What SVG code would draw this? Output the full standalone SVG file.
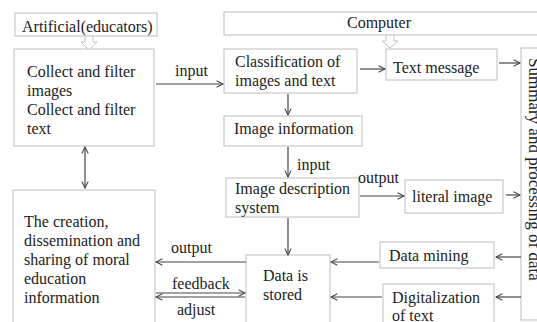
<svg xmlns="http://www.w3.org/2000/svg" width="537" height="322" viewBox="0 0 537 322">
  <defs>
    <marker id="arrow" viewBox="0 0 10 10" refX="9" refY="5" markerWidth="8" markerHeight="8" markerUnits="userSpaceOnUse" orient="auto-start-reverse">
      <path d="M1,1 L9,5 L1,9" fill="none" stroke="#444" stroke-width="1.3"/>
    </marker>
  </defs>
  <style>
    .box { fill: #fff; stroke: #bdbdbd; stroke-width: 1; }
    .hollow { fill: #fff; stroke: #c6c6c6; stroke-width: 1; }
    .lbl { font-family: "Liberation Serif", "Times New Roman", serif; font-size: 16px; fill: #222; }
    .conn path { fill: none; stroke: #444; stroke-width: 1.2; marker-end: url(#arrow); }
  </style>
  <rect width="537" height="322" fill="#fff"/>

  <!-- top actors -->
  <g id="artificial">
    <rect class="box" x="15" y="13" width="142" height="23"/>
    <text class="lbl" x="22" y="32">Artificial(educators)</text>
    <path class="hollow" d="M85,36 V42 H81 L89,50 L97,42 H93 V36 Z"/>
  </g>
  <g id="computer">
    <rect class="box" x="224" y="12" width="330" height="23"/>
    <text class="lbl" x="379" y="28" text-anchor="middle">Computer</text>
    <path class="hollow" d="M386,35 V41 H382 L390,48 L398,41 H394 V35 Z"/>
  </g>

  <!-- process nodes -->
  <g id="collect">
    <rect class="box" x="14" y="49" width="140" height="97"/>
    <text class="lbl" x="27" y="77">Collect and filter</text>
    <text class="lbl" x="27" y="96">images</text>
    <text class="lbl" x="27" y="115">Collect and filter</text>
    <text class="lbl" x="27" y="134">text</text>
  </g>
  <g id="creation">
    <rect class="box" x="13" y="190" width="142" height="140"/>
    <text class="lbl" x="24" y="227">The creation,</text>
    <text class="lbl" x="24" y="246">dissemination and</text>
    <text class="lbl" x="24" y="265">sharing of moral</text>
    <text class="lbl" x="24" y="284">education</text>
    <text class="lbl" x="24" y="303">information</text>
  </g>
  <g id="classification">
    <rect class="box" x="224" y="49" width="133" height="44"/>
    <text class="lbl" x="235" y="67">Classification of</text>
    <text class="lbl" x="235" y="86">images and text</text>
  </g>
  <g id="text-message">
    <rect class="box" x="386" y="49" width="111" height="31"/>
    <text class="lbl" x="393" y="73">Text message</text>
  </g>
  <g id="image-information">
    <rect class="box" x="224" y="116" width="138" height="30"/>
    <text class="lbl" x="234" y="134">Image information</text>
  </g>
  <g id="image-description">
    <rect class="box" x="226" y="178" width="133" height="39"/>
    <text class="lbl" x="235" y="194">Image description</text>
    <text class="lbl" x="235" y="213">system</text>
  </g>
  <g id="literal-image">
    <rect class="box" x="405" y="180" width="98" height="33"/>
    <text class="lbl" x="412" y="202">literal image</text>
  </g>
  <g id="data-stored">
    <rect class="box" x="246" y="255" width="84" height="75"/>
    <text class="lbl" x="263" y="281">Data is</text>
    <text class="lbl" x="263" y="300">stored</text>
  </g>
  <g id="data-mining">
    <rect class="box" x="380" y="242" width="114" height="26"/>
    <text class="lbl" x="389" y="261">Data mining</text>
  </g>
  <g id="digitalization">
    <rect class="box" x="383" y="284" width="111" height="46"/>
    <text class="lbl" x="392" y="303">Digitalization</text>
    <text class="lbl" x="392" y="321">of text</text>
  </g>
  <g id="summary">
    <rect class="box" x="521" y="48" width="30" height="272"/>
    <text class="lbl" style="font-size:17px" transform="translate(529,58) rotate(90)">Summary and processing of data</text>
  </g>

  <!-- connectors -->
  <g id="connectors" class="conn">
    <path d="M156,84 H223"/>
    <path d="M360,69 H385"/>
    <path d="M499,63 H520"/>
    <path d="M288,94 V115"/>
    <path d="M288,147 V177"/>
    <path d="M360,196 H404"/>
    <path d="M506,195 H520"/>
    <path d="M288,218 V255"/>
    <path d="M521,257 H496"/>
    <path d="M379,262 H331"/>
    <path d="M521,297 H496"/>
    <path d="M382,297 H331"/>
    <path d="M246,262 H156"/>
    <path d="M156,293 H245"/>
    <path d="M245,297 H156"/>
    <path d="M85,188 V147" style="marker-start: url(#arrow)"/>
  </g>

  <!-- connector labels -->
  <g id="connector-labels">
    <text class="lbl" x="175" y="76">input</text>
    <text class="lbl" x="297" y="170">input</text>
    <text class="lbl" x="358" y="183">output</text>
    <text class="lbl" x="171" y="253">output</text>
    <text class="lbl" x="172" y="289">feedback</text>
    <text class="lbl" x="177" y="315">adjust</text>
  </g>
</svg>
